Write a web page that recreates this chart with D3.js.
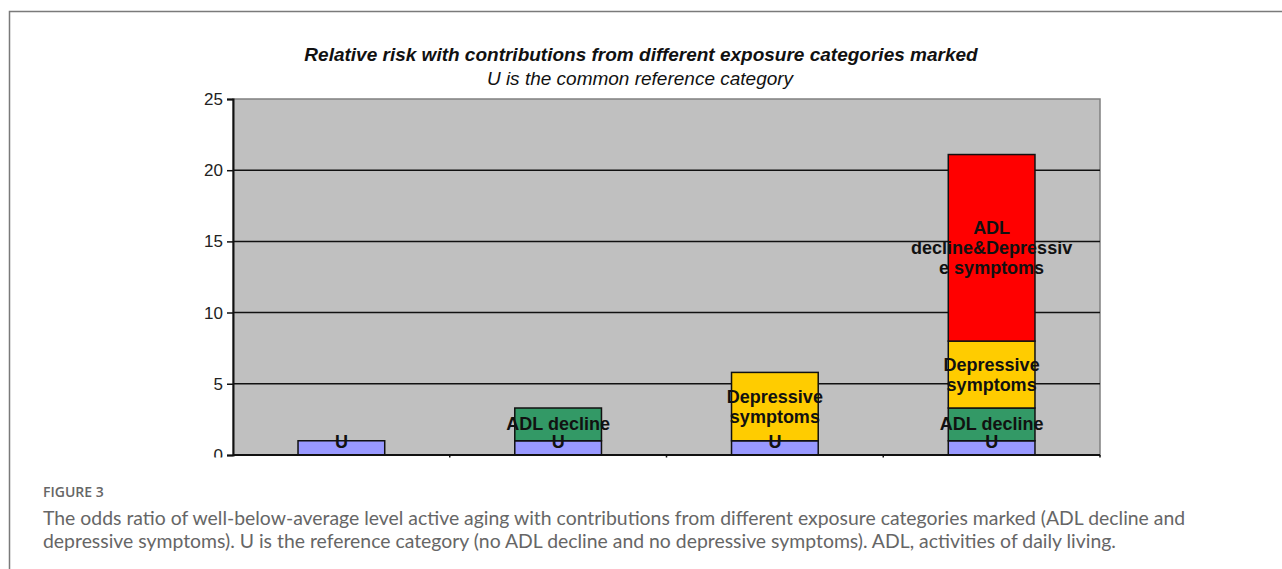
<!DOCTYPE html>
<html>
<head>
<meta charset="utf-8">
<script src="https://cdn.jsdelivr.net/npm/d3@7"></script>
<style>
  body { margin: 0; background: #fff; }
  svg { display: block; }
</style>
</head>
<body>
<div id="chart"></div>
<script>
// Chart data
const categories = ['U', 'ADL decline', 'Depressive symptoms', 'ADL decline & Depressive symptoms'];
const seriesKeys = ['U', 'ADL', 'Dep', 'Both'];
const uValues    = [1, 1, 1, 1];
const adlValues  = [0, 2.3, 0, 2.3];
const depValues  = [0, 0, 4.8, 4.7];
const bothValues = [0, 0, 0, 13.1];
const segmentLabels = [['U'], ['ADL decline'], ['Depressive', 'symptoms'], ['ADL', 'decline&Depressiv', 'e symptoms']];
const seriesColors = ['#9999ff', '#339966', '#ffcc00', '#ff0000'];
const yTicks = [0, 5, 10, 15, 20, 25];

const rows = categories.map((c, i) => ({
  cat: c, U: uValues[i], ADL: adlValues[i], Dep: depValues[i], Both: bothValues[i]
}));

const width = 1282, height = 569;
const svg = d3.select('#chart').append('svg')
  .attr('width', width)
  .attr('height', height);

// Outer frame (left + top)
svg.append('path')
  .attr('d', 'M9.5,569 L9.5,11.5 L1282,11.5')
  .attr('fill', 'none')
  .attr('stroke', '#7a7a7a')
  .attr('stroke-width', 1.5);

// Chart image gets cut just below the x axis
svg.append('clipPath').attr('id', 'cut')
  .append('rect').attr('x', 0).attr('y', 0).attr('width', width).attr('height', 457.5);

const chart = svg.append('g').attr('clip-path', 'url(#cut)');

const plot = { left: 233, right: 1100, top: 99, bottom: 455 };

const x = d3.scaleBand()
  .domain(categories)
  .range([plot.left, plot.right])
  .paddingInner(0.6)
  .paddingOuter(0.3);

const y = d3.scaleLinear()
  .domain([0, 25])
  .range([plot.bottom, plot.top]);

// Titles
chart.append('text')
  .attr('x', 641).attr('y', 61)
  .attr('text-anchor', 'middle')
  .style('font-family', 'Liberation Sans, Arial, sans-serif')
  .style('font-size', '19px')
  .style('font-weight', 'bold')
  .style('font-style', 'italic')
  .attr('fill', '#111')
  .text('Relative risk with contributions from different exposure categories marked');

chart.append('text')
  .attr('x', 640).attr('y', 85)
  .attr('text-anchor', 'middle')
  .style('font-family', 'Liberation Sans, Arial, sans-serif')
  .style('font-size', '19px')
  .style('font-style', 'italic')
  .attr('fill', '#111')
  .text('U is the common reference category');

// Plot background
chart.append('rect')
  .attr('x', plot.left).attr('y', plot.top)
  .attr('width', plot.right - plot.left)
  .attr('height', plot.bottom - plot.top)
  .attr('fill', '#c0c0c0')
  .attr('stroke', '#808080')
  .attr('stroke-width', 1.5);

// Gridlines
chart.append('g')
  .selectAll('line')
  .data(yTicks.filter(t => t > 0 && t < 25))
  .join('line')
  .attr('x1', plot.left).attr('x2', plot.right)
  .attr('y1', d => y(d)).attr('y2', d => y(d))
  .attr('stroke', '#111')
  .attr('stroke-width', 1.5);

// Stacked bars
const stacked = d3.stack().keys(seriesKeys)(rows);

const layers = chart.append('g')
  .selectAll('g')
  .data(stacked)
  .join('g')
  .attr('fill', (d, i) => seriesColors[i]);

layers.selectAll('rect')
  .data(d => d.filter(s => s[1] - s[0] > 0))
  .join('rect')
  .attr('x', d => x(d.data.cat))
  .attr('width', x.bandwidth())
  .attr('y', d => y(d[1]))
  .attr('height', d => y(d[0]) - y(d[1]))
  .attr('stroke', '#111')
  .attr('stroke-width', 1.5);

// Segment labels
const labelG = chart.append('g')
  .style('font-family', 'Liberation Sans, Arial, sans-serif')
  .style('font-size', '18px')
  .style('font-weight', 'bold')
  .attr('fill', '#111')
  .attr('text-anchor', 'middle');

stacked.forEach((layer, si) => {
  layer.filter(s => s[1] - s[0] > 0).forEach(s => {
    const lines = segmentLabels[si];
    const cx = x(s.data.cat) + x.bandwidth() / 2;
    let cy = (y(s[0]) + y(s[1])) / 2;
    if (si === 0) cy = y(s[1]) + 1.5;
    const lh = 20;
    const t = labelG.append('text').attr('x', cx).attr('y', cy - (lines.length - 1) * lh / 2 + 6);
    lines.forEach((ln, k) => {
      t.append('tspan').attr('x', cx).attr('dy', k === 0 ? 0 : lh).text(ln);
    });
  });
});

// Y axis
const yAxis = chart.append('g')
  .attr('transform', `translate(${plot.left},0)`)
  .call(d3.axisLeft(y).tickValues(yTicks).tickSize(6).tickPadding(4));
yAxis.select('.domain').attr('stroke', '#111').attr('stroke-width', 2);
yAxis.selectAll('.tick line').attr('stroke', '#111').attr('stroke-width', 1.5);
yAxis.selectAll('.tick text')
  .style('font-family', 'Liberation Sans, Arial, sans-serif')
  .style('font-size', '17px')
  .attr('fill', '#222');

// X axis (ticks between categories, no labels)
const bounds = categories.map((c, i) => plot.left + (i + 1) * x.step());
chart.append('line')
  .attr('x1', plot.left).attr('x2', plot.right)
  .attr('y1', plot.bottom).attr('y2', plot.bottom)
  .attr('stroke', '#111').attr('stroke-width', 2);
chart.append('g')
  .selectAll('line')
  .data(bounds)
  .join('line')
  .attr('x1', d => d).attr('x2', d => d)
  .attr('y1', plot.bottom).attr('y2', plot.bottom + 5)
  .attr('stroke', '#111').attr('stroke-width', 1.5);

// Caption
svg.append('text')
  .attr('x', 43).attr('y', 497)
  .style('font-family', 'Open Sans, sans-serif')
  .style('font-size', '14px')
  .style('font-weight', '600')
  .attr('fill', '#666')
  .text('FIGURE 3');

const captionLines = [
  'The odds ratio of well-below-average level active aging with contributions from different exposure categories marked (ADL decline and',
  'depressive symptoms). U is the reference category (no ADL decline and no depressive symptoms). ADL, activities of daily living.'
];
svg.append('g')
  .selectAll('text')
  .data(captionLines)
  .join('text')
  .attr('x', 43)
  .attr('y', (d, i) => 525 + i * 23)
  .style('font-family', 'Lato, sans-serif')
  .style('font-size', '19.4px')
  .attr('fill', '#666')
  .text(d => d);
</script>
</body>
</html>
